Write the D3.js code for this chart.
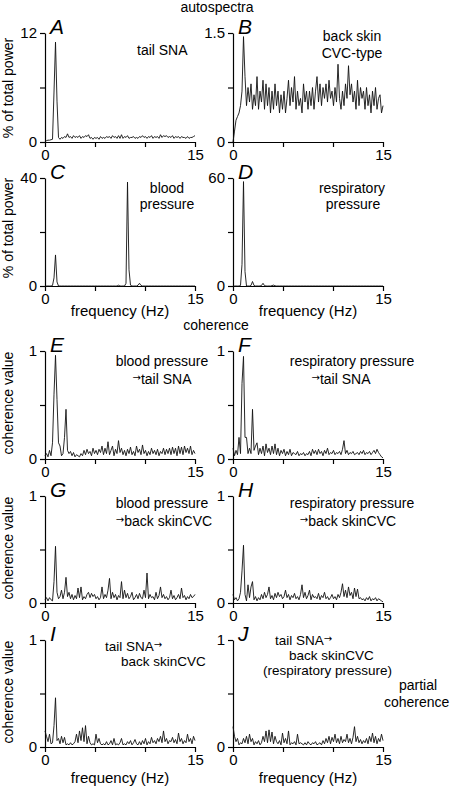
<!DOCTYPE html>
<html><head><meta charset="utf-8">
<script src="https://cdn.jsdelivr.net/npm/d3@7"></script>
<style>
body{margin:0;background:#fff;}
svg text{font-family:"Liberation Sans",Arial,sans-serif;fill:#000;}
</style></head><body>
<svg id="c" width="454" height="788"></svg>
<script>
// frequency grid step (Hz)
const freqStep = 0.15;
const xTickValues = [0, 5, 10, 15];
const xTickLabels = ["0", "", "", "15"];

const tailSNA = [0.1,0.15,0.2,0.2,0.25,0.3,5.5,11,4.5,0.5,
0.3,0.5,0.4,0.6,0.5,0.9,0.5,0.6,0.4,0.7,
0.5,0.6,0.5,0.7,0.4,0.6,0.5,0.7,0.6,0.8,
0.4,0.5,0.3,0.5,0.4,0.5,0.3,0.6,0.4,0.5,
0.4,0.6,0.5,0.6,0.4,0.7,0.5,0.6,0.4,0.7,
0.4,0.8,0.4,0.6,0.5,0.7,0.4,0.5,0.5,0.6,
0.4,0.5,0.4,0.6,0.5,0.7,0.5,0.6,0.4,0.6,
0.5,0.7,0.4,0.6,0.5,0.6,0.4,0.8,0.5,0.7,
0.6,0.7,0.5,0.6,0.5,0.7,0.4,0.6,0.5,0.6,
0.4,0.6,0.5,0.5,0.4,0.6,0.4,0.5,0.5,0.6,0.7];

const backSkinCVC = [0,0.15,0.3,0.35,0.4,0.5,0.7,1.45,0.9,0.5,
0.75,0.55,0.8,0.45,0.65,0.5,0.9,0.45,0.7,0.55,
0.85,0.45,0.8,0.5,0.75,0.4,0.7,0.45,0.8,0.5,
0.7,0.4,0.65,0.45,0.7,0.4,0.6,0.85,0.5,0.75,
0.55,0.9,0.45,0.7,0.5,0.6,0.4,0.8,0.55,0.7,
0.45,0.7,0.5,0.75,0.45,0.7,0.9,0.55,0.8,0.5,
0.75,0.6,0.8,0.55,0.85,0.6,0.7,0.5,0.75,0.55,
1.07,0.6,0.45,0.7,0.5,0.8,0.6,1.05,0.65,0.8,
0.55,0.7,0.45,0.85,0.5,0.75,0.6,0.7,0.45,0.75,
0.5,0.65,0.4,0.7,0.5,0.75,0.45,0.6,0.65,0.4,0.5];

const bloodPressure = [0,0,0,0,0,0.2,3,11.5,1.5,0,
0,0,0,0,0,0,0,0,0,0,
0,0,0,0,0,0,0,0,0,0,
0,0,0,0,0,0,0,0,0,0,
0,0,0,0,0,0,0,0,0,0.3,
0,0,0,0,1,38.5,6,0.3,0,0,
0,0,0.3,1,0.2,0,0,0,0,0,
0,0,0,0,0,0,0,0,0,0,
0,0,0,0,0,0,0,0,0,0,
0,0,0,0,0,0,0,0,0,0,0];

const respPressure = [0,0,0,0,0,0.3,12,58,8,0,
0,0,0.3,2.5,0.3,0,0,0,0,0.3,
1.5,0.2,0,0,0,0,0.2,0.5,0.1,0,
0,0,0,0,0,0,0,0,0,0,
0,0,0,0,0,0,0,0,0,0,
0,0,0,0,0,0,0,0,0,0,
0,0,0,0,0,0,0,0,0,0,
0,0,0,0,0,0,0,0,0,0,
0,0,0,0,0,0,0,0,0,0,
0,0,0,0,0,0,0,0,0,0,0];

const cohBPtail = [0.03,0.05,0.02,0.08,0.03,0.15,0.6,0.96,0.55,0.15,
0.12,0.03,0.05,0.2,0.46,0.08,0.05,0.07,0.03,0.06,
0.02,0.04,0.03,0.02,0.05,0.03,0.08,0.04,0.09,0.05,
0.07,0.03,0.1,0.05,0.08,0.04,0.09,0.06,0.12,0.04,
0.1,0.05,0.16,0.04,0.08,0.12,0.03,0.09,0.05,0.17,
0.06,0.1,0.04,0.08,0.03,0.09,0.05,0.11,0.04,0.07,
0.03,0.12,0.06,0.09,0.04,0.13,0.05,0.08,0.03,0.07,
0.04,0.1,0.05,0.08,0.04,0.09,0.03,0.07,0.05,0.1,
0.04,0.09,0.05,0.1,0.04,0.11,0.05,0.1,0.03,0.12,
0.05,0.11,0.04,0.12,0.06,0.1,0.05,0.12,0.04,0.08,0.05];

const cohRespTail = [0.1,0.03,0.08,0.04,0.2,0.05,0.7,0.95,0.2,0.2,
0.05,0.1,0.05,0.46,0.08,0.12,0.15,0.04,0.1,0.05,
0.12,0.03,0.14,0.06,0.1,0.04,0.12,0.05,0.14,0.04,
0.1,0.03,0.08,0.05,0.09,0.03,0.07,0.04,0.09,0.03,
0.06,0.05,0.04,0.07,0.03,0.05,0.04,0.06,0.03,0.05,
0.04,0.07,0.03,0.09,0.05,0.08,0.04,0.09,0.05,0.07,
0.03,0.08,0.05,0.1,0.04,0.06,0.05,0.08,0.04,0.06,
0.05,0.07,0.04,0.09,0.17,0.05,0.08,0.04,0.06,0.05,
0.07,0.04,0.05,0.06,0.04,0.07,0.05,0.08,0.04,0.06,
0.05,0.07,0.04,0.06,0.08,0.05,0.09,0.06,0.04,0.02,0.01];

const cohBPskin = [0.03,0.05,0.02,0.05,0.03,0.02,0.2,0.53,0.1,0.04,
0.06,0.12,0.04,0.1,0.24,0.06,0.1,0.04,0.08,0.03,
0.07,0.04,0.14,0.05,0.15,0.03,0.06,0.04,0.08,0.1,
0.05,0.09,0.06,0.08,0.04,0.06,0.03,0.05,0.15,0.04,
0.08,0.05,0.12,0.23,0.04,0.1,0.05,0.08,0.03,0.07,
0.05,0.2,0.04,0.12,0.05,0.09,0.04,0.06,0.1,0.03,
0.05,0.08,0.04,0.09,0.05,0.04,0.12,0.05,0.28,0.04,
0.08,0.05,0.06,0.03,0.1,0.04,0.07,0.15,0.05,0.08,
0.04,0.06,0.03,0.05,0.12,0.04,0.07,0.03,0.05,0.08,
0.04,0.14,0.05,0.07,0.03,0.06,0.04,0.08,0.05,0.06,0.08];

const cohRespSkin = [0.08,0.03,0.05,0.02,0.04,0.1,0.3,0.54,0.08,0.02,
0.17,0.05,0.15,0.2,0.03,0.06,0.02,0.05,0.03,0.08,
0.04,0.1,0.05,0.08,0.15,0.04,0.07,0.03,0.09,0.05,
0.1,0.06,0.08,0.04,0.06,0.12,0.05,0.08,0.03,0.07,
0.05,0.09,0.04,0.06,0.03,0.08,0.17,0.05,0.1,0.04,
0.07,0.12,0.03,0.08,0.05,0.06,0.04,0.09,0.03,0.07,
0.05,0.1,0.04,0.06,0.03,0.05,0.08,0.04,0.06,0.03,
0.08,0.05,0.1,0.18,0.06,0.12,0.05,0.15,0.07,0.1,
0.04,0.14,0.06,0.13,0.04,0.05,0.03,0.04,0.02,0.05,
0.03,0.06,0.02,0.04,0.03,0.05,0.02,0.04,0.03,0.02,0.01];

const cohTailSkin = [0.15,0.1,0.05,0.12,0.03,0.04,0.2,0.46,0.06,0.08,
0.03,0.1,0.04,0.09,0.02,0.03,0.02,0.04,0.02,0.03,
0.05,0.12,0.04,0.15,0.06,0.18,0.05,0.2,0.03,0.1,
0.04,0.02,0.03,0.02,0.12,0.04,0.08,0.03,0.02,0.03,
0.02,0.05,0.02,0.03,0.06,0.02,0.08,0.02,0.03,0.02,
0.04,0.08,0.02,0.03,0.02,0.05,0.03,0.06,0.02,0.04,
0.07,0.03,0.02,0.05,0.02,0.06,0.03,0.08,0.02,0.05,
0.03,0.09,0.04,0.06,0.03,0.08,0.05,0.1,0.04,0.15,
0.05,0.08,0.03,0.06,0.05,0.09,0.04,0.07,0.03,0.13,
0.05,0.08,0.03,0.06,0.04,0.12,0.05,0.08,0.03,0.1,0.06];

const cohPartial = [0.19,0.1,0.05,0.08,0.02,0.04,0.03,0.08,0.04,0.1,
0.03,0.12,0.05,0.08,0.02,0.05,0.03,0.06,0.02,0.04,
0.1,0.05,0.15,0.04,0.16,0.05,0.14,0.03,0.1,0.05,
0.03,0.06,0.02,0.13,0.04,0.08,0.03,0.15,0.02,0.04,
0.03,0.05,0.02,0.12,0.03,0.04,0.03,0.02,0.04,0.02,
0.05,0.03,0.02,0.04,0.03,0.05,0.02,0.03,0.04,0.02,
0.06,0.03,0.08,0.04,0.1,0.03,0.09,0.05,0.12,0.04,
0.08,0.03,0.1,0.04,0.07,0.05,0.12,0.04,0.08,0.03,
0.09,0.19,0.05,0.1,0.04,0.07,0.03,0.06,0.04,0.08,
0.03,0.1,0.05,0.13,0.04,0.1,0.03,0.08,0.05,0.12,0.06];

const yMax = [12, 1.5, 40, 60, 1, 1, 1, 1, 1, 1];
const yTickLabels = ["12", "1.5", "40", "60", "1", "1", "1", "1", "1", "1"];
const panelLetters = ["A","B","C","D","E","F","G","H","I","J"];
const series = [tailSNA, backSkinCVC, bloodPressure, respPressure, cohBPtail, cohRespTail, cohBPskin, cohRespSkin, cohTailSkin, cohPartial];

// layout
const cols = [[45,195],[233,383]];
const rows = [[33,142],[178,286],[351,459],[496,603],[640,747]];

const svg = d3.select("#c");
const FONT = '"Liberation Sans",Arial,sans-serif';

series.forEach((vals, p) => {
  const col = cols[p % 2], row = rows[Math.floor(p / 2)];
  const x = d3.scaleLinear().domain([0, 15]).range(col);
  const y = d3.scaleLinear().domain([0, yMax[p]]).range([row[1], row[0]]);
  const g = svg.append("g");
  const ya = d3.axisLeft(y).tickValues([0, yMax[p] / 2, yMax[p]])
    .tickFormat(d => d === 0 ? "0" : (d === yMax[p] ? yTickLabels[p] : ""))
    .tickSize(5).tickSizeOuter(0).tickPadding(3);
  const xa = d3.axisBottom(x).tickValues(xTickValues)
    .tickFormat((d, i) => xTickLabels[i]).tickSize(5).tickSizeOuter(0).tickPadding(2);
  const gy = g.append("g").attr("transform", `translate(${col[0]},0)`).call(ya);
  const gx = g.append("g").attr("transform", `translate(0,${row[1]})`).call(xa);
  [gy, gx].forEach(a => {
    a.selectAll("path,line").attr("stroke", "#000").attr("stroke-width", 1.2);
    a.selectAll("text").attr("font-size", 15).attr("font-family", FONT).attr("fill", "#000");
  });
  const line = d3.line().x((d, i) => x(i * freqStep)).y(d => y(d));
  g.append("path").datum(vals).attr("d", line).attr("fill", "none")
    .attr("stroke", "#111").attr("stroke-width", 0.9).attr("stroke-linejoin", "round");
  g.append("text").attr("x", col[0] + 5).attr("y", row[0] + 1)
    .attr("font-size", 21).attr("font-style", "italic").text(panelLetters[p]);
});

// y axis labels
const yLabels = [
  ["% of total power", 88], ["% of total power", 228],
  ["coherence value", 403], ["coherence value", 548], ["coherence value", 692]
];
yLabels.forEach(([t, cy]) => {
  svg.append("text").attr("transform", `translate(13,${cy}) rotate(-90)`)
    .attr("text-anchor", "middle").attr("font-size", 14).text(t);
});

// x axis labels
[[120, 316], [308, 316], [120, 783], [308, 783]].forEach(([cx, cy]) => {
  svg.append("text").attr("x", cx).attr("y", cy).attr("text-anchor", "middle")
    .attr("font-size", 15).text("frequency (Hz)");
});

// section titles
svg.append("text").attr("x", 217).attr("y", 12).attr("text-anchor", "middle").attr("font-size", 14).text("autospectra");
svg.append("text").attr("x", 216).attr("y", 330).attr("text-anchor", "middle").attr("font-size", 14).text("coherence");

// annotations: [text, x, y, anchor, size]
const notes = [
  ["tail SNA", 137, 55, "start", 14],
  ["back skin", 352, 41, "middle", 14], ["CVC-type", 352, 58, "middle", 14],
  ["blood", 167, 193, "middle", 14], ["pressure", 167, 209, "middle", 14],
  ["respiratory", 352, 193, "middle", 14], ["pressure", 353, 209, "middle", 14],
  ["blood pressure", 162, 366, "middle", 14], ["→tail SNA", 162, 384, "middle", 14],
  ["respiratory pressure", 352, 366, "middle", 14], ["→tail SNA", 341, 384, "middle", 14],
  ["blood pressure", 162, 508, "middle", 14], ["→back skinCVC", 164, 526, "middle", 14],
  ["respiratory pressure", 352, 508, "middle", 14], ["→back skinCVC", 348, 526, "middle", 14],
  ["tail SNA→", 105, 651, "start", 13.5], ["back skinCVC", 121, 666, "start", 13.5],
  ["tail SNA→", 275, 645, "start", 13.5], ["back skinCVC", 289, 660, "start", 13.5],
  ["(respiratory pressure)", 263, 675, "start", 13.5],
  ["partial", 399, 690, "start", 14], ["coherence", 384, 707, "start", 14]
];
notes.forEach(([t, x, y, a, fs]) => {
  const el = svg.append("text").attr("x", x).attr("y", y).attr("text-anchor", a).attr("font-size", fs);
  let shifted = false;
  t.split(/(→)/).filter(s => s.length).forEach(s => {
    const ts = el.append("tspan").text(s);
    if (s === "→") {
      ts.attr("font-size", 10).attr("font-family", "DejaVu Sans").attr("dy", -3);
      shifted = true;
    } else {
      ts.attr("font-size", fs);
      if (shifted) { ts.attr("dy", 3); shifted = false; }
    }
  });
});
</script></body></html>
